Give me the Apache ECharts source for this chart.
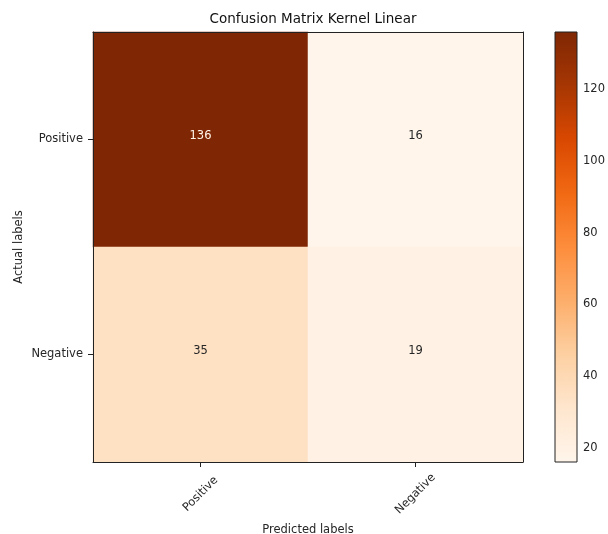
<!DOCTYPE html>
<html>
<head>
<meta charset="utf-8">
<script src="https://cdn.jsdelivr.net/npm/echarts@6/dist/echarts.min.js"></script>
<style>
  html, body { margin: 0; padding: 0; background: #fff; }
  #cm { width: 608px; height: 534px; }
</style>
</head>
<body>
<div id="cm"></div>
<script>
// confusion matrix values (rows = actual, cols = predicted)
const predictedLabels = ['Positive', 'Negative'];
const actualLabels = ['Positive', 'Negative'];
const matrix = [
  [136, 16],
  [35, 19]
];
const colorbarTicks = [20, 40, 60, 80, 100, 120];

// matplotlib "Oranges"
const oranges = ['#fff5eb', '#fee6ce', '#fdd0a2', '#fdae6b', '#fd8d3c', '#f16913', '#d94801', '#a63603', '#7f2704'];

const vmin = Math.min(...matrix.flat());
const vmax = Math.max(...matrix.flat());

const cells = [];
matrix.forEach((row, i) => {
  row.forEach((v, j) => cells.push([j, i, v]));
});

const fontFamily = 'DejaVu Sans';
const textColor = '#262626';

var chart = echarts.init(document.getElementById('cm'));

const option = {
  textStyle: { fontFamily: fontFamily },
  title: {
    text: 'Confusion Matrix Kernel Linear',
    left: 308,
    textAlign: 'center',
    top: 7,
    textStyle: { fontFamily: fontFamily, fontSize: 13.5, fontWeight: 'normal', color: '#111' }
  },
  grid: [
    { left: 93, top: 32, width: 430, height: 430, outerBoundsMode: 'none', containLabel: false },
    { left: 555, top: 32, width: 22, height: 430, outerBoundsMode: 'none', containLabel: false }
  ],
  xAxis: [
    {
      gridIndex: 0,
      type: 'category',
      data: predictedLabels,
      z: 5,
      name: 'Predicted labels',
      nameLocation: 'middle',
      nameGap: 62,
      nameMoveOverlap: false,
      nameTextStyle: { fontSize: 11.5, color: textColor },
      axisLine: { lineStyle: { color: '#222', width: 1 } },
      axisTick: { show: true, inside: false, alignWithLabel: true, length: 5, lineStyle: { color: '#222', width: 1 } },
      axisLabel: {
        rotate: 45, align: 'center', verticalAlign: 'middle', margin: 32,
        fontSize: 11.5, color: textColor
      },
      splitLine: { show: false }
    },
    {
      gridIndex: 0,
      type: 'category',
      data: predictedLabels,
      position: 'top',
      z: 5,
      axisLine: { lineStyle: { color: '#222', width: 1 } },
      axisTick: { show: false },
      axisLabel: { show: false }
    },
    {
      gridIndex: 1,
      type: 'value',
      min: 0,
      max: 1,
      show: false
    }
  ],
  yAxis: [
    {
      gridIndex: 0,
      type: 'category',
      data: actualLabels,
      inverse: true,
      z: 5,
      name: 'Actual labels',
      nameLocation: 'middle',
      nameGap: 68,
      nameMoveOverlap: false,
      nameTextStyle: { fontSize: 11.5, color: textColor },
      axisLine: { lineStyle: { color: '#222', width: 1 } },
      axisTick: { show: true, inside: false, alignWithLabel: true, length: 5, lineStyle: { color: '#222', width: 1 } },
      axisLabel: { fontSize: 11.5, color: textColor, margin: 10 },
      splitLine: { show: false }
    },
    {
      gridIndex: 0,
      type: 'category',
      data: actualLabels,
      position: 'right',
      z: 5,
      axisLine: { lineStyle: { color: '#222', width: 1 } },
      axisTick: { show: false },
      axisLabel: { show: false }
    },
    {
      gridIndex: 1,
      type: 'value',
      min: vmin,
      max: vmax,
      position: 'right',
      axisLine: { show: false },
      splitLine: { show: false },
      axisTick: { show: true, length: 4, customValues: colorbarTicks, lineStyle: { color: '#222' } },
      axisLabel: { fontSize: 11.5, color: textColor, margin: 6, customValues: colorbarTicks }
    }
  ],
  visualMap: {
    show: false,
    type: 'continuous',
    seriesIndex: 0,
    min: vmin,
    max: vmax,
    inRange: { color: oranges }
  },
  series: [
    {
      type: 'heatmap',
      xAxisIndex: 0,
      yAxisIndex: 0,
      data: cells,
      label: {
        show: true,
        fontSize: 11.5,
        fontFamily: fontFamily,
        formatter: p => String(p.value[2]),
        color: textColor,
        offset: [0, -3]
      },
      emphasis: { disabled: true }
    },
    {
      type: 'custom',
      xAxisIndex: 2,
      yAxisIndex: 2,
      data: [[0, vmin, 1, vmax]],
      silent: true,
      renderItem: function (params, api) {
        const p0 = api.coord([api.value(0), api.value(3)]);
        const p1 = api.coord([api.value(2), api.value(1)]);
        return {
          type: 'rect',
          shape: { x: p0[0], y: p0[1], width: p1[0] - p0[0], height: p1[1] - p0[1] },
          style: {
            fill: new echarts.graphic.LinearGradient(0, 1, 0, 0,
              oranges.map((c, k) => ({ offset: k / (oranges.length - 1), color: c }))),
            stroke: '#222',
            lineWidth: 1
          }
        };
      }
    }
  ]
};

// light label on the dark cell, like matplotlib's threshold
option.series[0].data = cells.map(c => ({
  value: c,
  label: { color: c[2] > (vmin + vmax) / 2 ? '#fff5eb' : textColor }
}));

chart.setOption(option);
</script>
</body>
</html>
